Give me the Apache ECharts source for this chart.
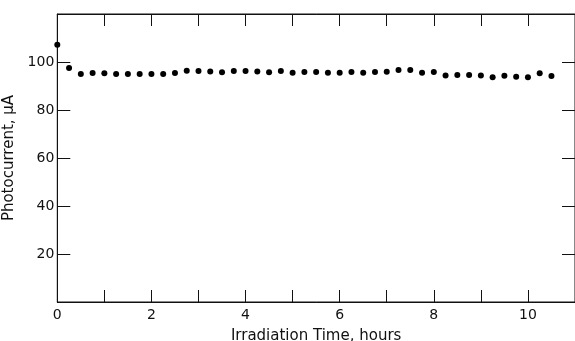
<!DOCTYPE html>
<html>
<head>
<meta charset="utf-8">
<script src="https://cdn.jsdelivr.net/npm/echarts@6/dist/echarts.min.js"></script>
<style>
html,body{margin:0;padding:0;background:#fff;}
#chart{width:575px;height:341px;}
</style>
</head>
<body>
<div id="chart"></div>
<script>
// Irradiation time (hours)
const times = [0,0.25,0.5,0.75,1,1.25,1.5,1.75,2,2.25,2.5,2.75,3,3.25,3.5,3.75,4,4.25,4.5,4.75,5,5.25,5.5,5.75,6,6.25,6.5,6.75,7,7.25,7.5,7.75,8,8.25,8.5,8.75,9,9.25,9.5,9.75,10,10.25,10.5];
// Photocurrent (µA)
const photocurrent = [107.2,97.5,95.0,95.4,95.3,95.0,95.0,95.0,95.0,95.0,95.4,96.4,96.3,96.0,95.7,96.25,96.25,96.0,95.7,96.25,95.55,95.8,95.8,95.55,95.55,95.8,95.55,95.8,95.9,96.7,96.7,95.55,95.8,94.4,94.6,94.6,94.4,93.6,94.3,93.9,93.6,95.3,94.2];
const xTickLabels = [0,2,4,6,8,10];
const yTickLabels = [20,40,60,80,100];

const FONT = 'DejaVu Sans';
const ls = () => ({color:'#111', width:1});
const chart = echarts.init(document.getElementById('chart'), null, {renderer:'canvas'});
chart.setOption({
  animation:false,
  backgroundColor:'#fff',
  grid:{left:57.3, top:14, right:0, bottom:39, outerBoundsMode:'none',
        show:true, borderColor:'#111', borderWidth:1, backgroundColor:'transparent'},
  xAxis:[{
    type:'value', min:0, max:11, interval:1, position:'bottom',
    name:'Irradiation Time, hours', nameLocation:'middle', nameGap:27,
    nameTextStyle:{fontFamily:FONT, fontSize:15, color:'#111'},
    axisLine:{show:true, onZero:false, lineStyle:ls()},
    axisTick:{show:true, inside:true, length:12, lineStyle:ls()},
    axisLabel:{fontFamily:FONT, fontSize:14, color:'#111', margin:6,
      formatter:v => xTickLabels.includes(v) ? String(v) : ''},
    splitLine:{show:false}
  },{
    type:'value', min:0, max:11, interval:1, position:'top',
    axisLine:{show:true, onZero:false, lineStyle:ls()},
    axisTick:{show:true, inside:true, length:12, lineStyle:ls()},
    axisLabel:{show:false}, splitLine:{show:false}
  }],
  yAxis:[{
    type:'value', min:0, max:120, interval:20, position:'left',
    name:'Photocurrent, μA', nameLocation:'middle', nameGap:22, nameRotate:90,
    nameTextStyle:{fontFamily:FONT, fontSize:15, color:'#111'},
    axisLine:{show:true, onZero:false, lineStyle:ls()},
    axisTick:{show:true, inside:true, length:13, lineStyle:ls()},
    axisLabel:{fontFamily:FONT, fontSize:14, color:'#111', margin:3,
      formatter:v => yTickLabels.includes(v) ? String(v) : ''},
    splitLine:{show:false}
  },{
    type:'value', min:0, max:120, interval:20, position:'right',
    axisLine:{show:false, onZero:false, lineStyle:ls()},
    axisTick:{show:true, inside:true, length:13, lineStyle:ls()},
    axisLabel:{show:false}, splitLine:{show:false}
  }],
  series:[{
    type:'scatter',
    data: times.map((t,i) => [t, photocurrent[i]]),
    symbol:'circle', symbolSize:6,
    itemStyle:{color:'#000', opacity:1}
  }]
});
</script>
</body>
</html>
